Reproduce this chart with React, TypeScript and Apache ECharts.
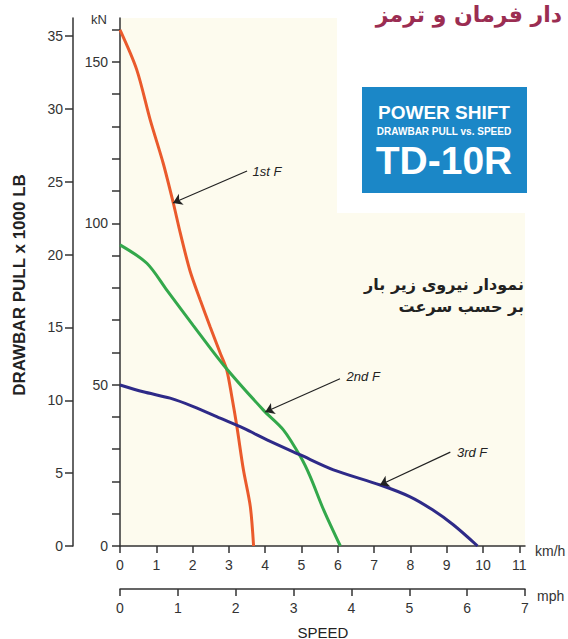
import React, { useEffect, useRef } from "react";
import * as echarts from "echarts";

// ---- data (speed in km/h, drawbar pull in kN) ----
const speed1st = [0, 0.46, 0.83, 1.19, 1.47, 1.66, 1.93, 2.21, 2.48, 2.76, 2.94, 3.08, 3.22, 3.4, 3.59, 3.68];
const pull1st = [159.9, 147.6, 132.1, 118.6, 106.2, 97.0, 85.2, 76.2, 68.0, 59.8, 54.6, 46.3, 37.0, 23.6, 12.2, 0];
const speed2nd = [0, 0.74, 1.29, 2.02, 2.85, 3.95, 4.5, 4.97, 5.24, 5.61, 6.07];
const pull2nd = [93.3, 87.6, 79.3, 68.3, 56.1, 42.1, 36.0, 27.7, 21.5, 11.2, 0];
const speed3rd = [0, 0.64, 1.38, 2.02, 2.76, 3.4, 4.05, 4.97, 5.88, 7.17, 7.98, 8.61, 9.19, 9.85];
const pull3rd = [49.9, 47.8, 45.8, 43.2, 39.6, 36.5, 32.9, 28.2, 23.6, 18.9, 15.3, 11.2, 6.5, 0];

const seriesNames = ["1st F", "2nd F", "3rd F"];
const seriesColors = ["#ea5a2c", "#33a84b", "#2e2a88"];
// annotation: [labelX, labelY, arrowTailX, arrowTailY, arrowHeadX, arrowHeadY]
const annot1st = [4.05, 115.9, 3.5, 116.2, 1.46, 106.3];
const annot2nd = [6.7, 52.4, 6.06, 51.8, 4.0, 41.5];
const annot3rd = [9.7, 29.1, 9.1, 29.1, 7.16, 18.9];

const kmhTicks = [0, 1, 2, 3, 4, 5, 6, 7, 8, 9, 10, 11];
const mphTicks = [0, 1, 2, 3, 4, 5, 6, 7];
const kNTicks = [0, 10, 20, 30, 40, 50, 60, 70, 80, 90, 100, 110, 120, 130, 140, 150, 160];
const kNLabels = [0, 50, 100, 150];
const lbTicks = [0, 5, 10, 15, 20, 25, 30, 35];

const FONT = '"Liberation Sans", Arial, Helvetica, sans-serif';
const AXIS = "#333";

export default function App() {
  const ref = useRef<HTMLDivElement>(null);
  useEffect(() => {
    if (!ref.current) return;
    const chart = echarts.init(ref.current, undefined, { renderer: "svg" });
    const lineStyle = { color: AXIS, width: 1.5 };
    const labelStyle = { color: "#333", fontSize: 14, fontFamily: FONT };
    const annots = [annot1st, annot2nd, annot3rd];
    const sets = [
      [speed1st, pull1st],
      [speed2nd, pull2nd],
      [speed3rd, pull3rd],
    ];
    const series = sets.map(([xs, ys], i) => ({
      type: "line",
      name: seriesNames[i],
      xAxisIndex: 0,
      yAxisIndex: 0,
      data: xs.map((x, j) => [x, ys[j]]),
      symbol: "none",
      smooth: 0.3,
      lineStyle: { color: seriesColors[i], width: 3 },
      z: 3,
      markLine: {
        silent: true,
        symbol: ["none", "arrow"],
        symbolSize: 9,
        lineStyle: { color: "#222", width: 1.2, type: "solid" },
        label: { show: false },
        data: [[{ coord: [annots[i][2], annots[i][3]] }, { coord: [annots[i][4], annots[i][5]] }]],
      },
      markPoint: {
        silent: true,
        symbol: "circle",
        symbolSize: 1,
        itemStyle: { color: "rgba(0,0,0,0)" },
        label: {
          show: true,
          position: "inside",
          formatter: seriesNames[i],
          fontStyle: "italic",
          fontSize: 13,
          color: "#222",
          fontFamily: FONT,
        },
        data: [{ coord: [annots[i][0], annots[i][1]] }],
      },
    }));

    const txt = (text: string, x: number, y: number, font: string, fill: string, align = "center", extra: any = {}) => ({
      type: "text",
      x,
      y,
      z: 10,
      ...extra,
      style: {
        text,
        font,
        fill,
        align,
        verticalAlign: "middle",
        textAlign: align,
        textVerticalAlign: "middle",
      },
    });

    chart.setOption({
      animation: false,
      backgroundColor: "#ffffff",
      grid: {
        left: 120,
        top: 18,
        width: 405,
        height: 528,
        show: true,
        backgroundColor: "#fdfbee",
        borderWidth: 0,
      },
      xAxis: [
        {
          type: "value",
          min: 0,
          max: 11.157,
          position: "bottom",
          axisLine: { show: true, onZero: false, lineStyle },
          axisTick: { show: true, length: 7, customValues: kmhTicks, lineStyle },
          axisLabel: { show: true, customValues: kmhTicks, margin: 12, ...labelStyle },
          splitLine: { show: false },
        },
        {
          type: "value",
          min: 0,
          max: 7,
          position: "bottom",
          offset: 43,
          axisLine: { show: true, onZero: false, lineStyle },
          axisTick: { show: true, length: 7, customValues: mphTicks, lineStyle },
          axisLabel: { show: true, customValues: mphTicks, margin: 12, ...labelStyle },
          splitLine: { show: false },
        },
      ],
      yAxis: [
        {
          type: "value",
          min: 0,
          max: 163.6,
          position: "left",
          axisLine: { show: true, onZero: false, lineStyle },
          axisTick: { show: true, length: 8, customValues: kNTicks, lineStyle },
          axisLabel: { show: true, customValues: kNLabels, margin: 12, ...labelStyle },
          splitLine: { show: false },
        },
        {
          type: "value",
          min: 0,
          max: 36.24,
          position: "left",
          offset: 47,
          axisLine: { show: true, onZero: false, lineStyle },
          axisTick: { show: true, length: 8, customValues: lbTicks, lineStyle },
          axisLabel: { show: true, customValues: lbTicks, margin: 10, ...labelStyle },
          splitLine: { show: false },
        },
      ],
      series,
      graphic: [
        { type: "rect", z: 1, shape: { x: 337, y: 0, width: 231, height: 213 }, style: { fill: "#ffffff" } },
        { type: "rect", z: 2, shape: { x: 362, y: 87, width: 165, height: 106 }, style: { fill: "#1b87c7" } },
        txt("POWER SHIFT", 444, 112, `bold 19px ${FONT}`, "#ffffff"),
        txt("DRAWBAR PULL vs. SPEED", 444, 131, `bold 10px ${FONT}`, "#ffffff"),
        txt("TD-10R", 444, 160, `bold 39px ${FONT}`, "#ffffff"),
        txt("دار فرمان و ترمز", 562, 14, 'bold 22px "DejaVu Sans", sans-serif', "#9b2d52", "right"),
        txt("نمودار نیروی زیر بار", 524, 284, 'bold 16px "DejaVu Sans", sans-serif', "#222", "right"),
        txt("بر حسب سرعت", 524, 306, 'bold 16px "DejaVu Sans", sans-serif', "#222", "right"),
        txt("kN", 99, 19, `13px ${FONT}`, "#333"),
        txt("km/h", 535, 551, `14px ${FONT}`, "#333", "left"),
        txt("mph", 537, 596, `14px ${FONT}`, "#333", "left"),
        txt("SPEED", 323, 632, `15px ${FONT}`, "#222"),
        txt("DRAWBAR PULL x 1000 LB", 19, 285, `bold 17px ${FONT}`, "#222", "center", { rotation: Math.PI / 2 }),
      ],
    });
    return () => chart.dispose();
  }, []);
  return <div ref={ref} style={{ position: "absolute", left: 0, top: 0, width: 568, height: 639 }} />;
}
